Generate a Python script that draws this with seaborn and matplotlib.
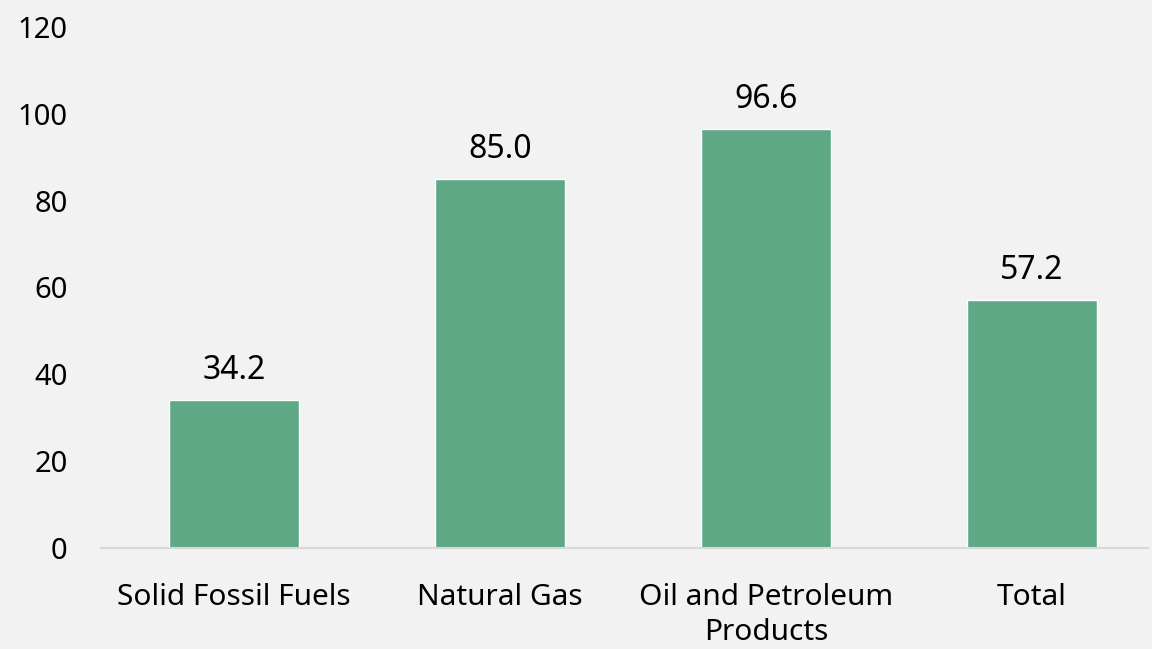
import matplotlib
matplotlib.use("Agg")
import matplotlib.pyplot as plt
import pandas as pd
import seaborn as sns

categories = ["Solid Fossil Fuels", "Natural Gas", "Oil and Petroleum\nProducts", "Total"]
values = [34.2, 85.0, 96.6, 57.2]
y_ticks = [0, 20, 40, 60, 80, 100, 120]

BG = "#f2f2f2"
BAR = "#5ea886"


def main():
    sns.set_theme(style="white")
    plt.rcParams["font.family"] = ["Noto Sans", "DejaVu Sans"]

    df = pd.DataFrame({"category": categories, "value": values})

    fig = plt.figure(figsize=(11.52, 6.49), dpi=100, facecolor=BG)
    ax = fig.add_axes([101 / 1152, 1 - 548 / 649, (1148 - 101) / 1152, 521 / 649])
    ax.set_facecolor(BG)

    sns.barplot(data=df, x="category", y="value", color=BAR, saturation=1,
                width=0.49, ax=ax)

    for i, v in enumerate(values):
        ax.annotate(f"{v:.1f}", (i, v), xytext=(0, 9), textcoords="offset points",
                    ha="center", va="bottom", fontsize=23, color="black")

    ax.set_xlim(-0.5, 3.436)
    ax.set_ylim(0, 120)
    ax.set_yticks(y_ticks)
    ax.set_xlabel("")
    ax.set_ylabel("")
    ax.tick_params(axis="y", labelsize=21, length=0, pad=24, colors="black")
    ax.tick_params(axis="x", labelsize=21.5, length=0, pad=25, colors="black")
    for lbl in ax.get_xticklabels():
        lbl.set_verticalalignment("top")
        lbl.set_linespacing(1.3)

    for side in ["top", "right", "left"]:
        ax.spines[side].set_visible(False)
    ax.spines["bottom"].set_color("#d9d9d9")
    ax.spines["bottom"].set_linewidth(1.5)

    fig.savefig("out.png", dpi=100, facecolor=BG)


if __name__ == "__main__":
    main()
